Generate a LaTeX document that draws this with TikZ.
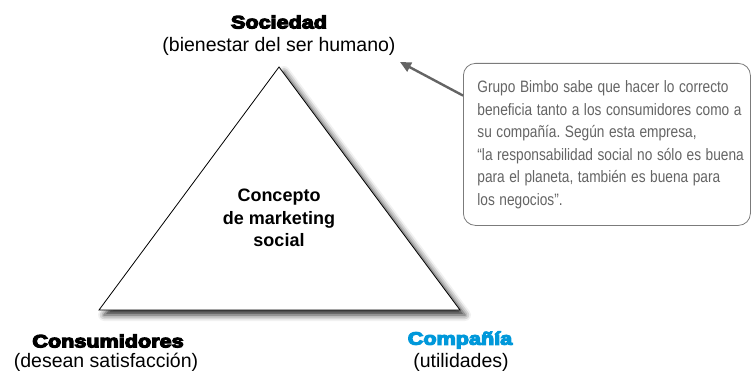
\documentclass[tikz,border=0pt]{standalone}
\usepackage{fontspec}
\setmainfont{Liberation Sans}
\usepackage{xcolor}
\usepackage{tikz}
\usetikzlibrary{arrows.meta,shadows.blur,calc}
\definecolor{bimboblue}{RGB}{0,152,218}
\definecolor{notegray}{RGB}{100,100,100}
\newcommand{\heavytext}[1]{\scalebox{1.2}[1]{\special{pdf:literal direct 2 Tr 1.1 w}\bfseries #1\special{pdf:literal direct 0 Tr}}}
\tikzset{
  heading/.style={font=\fontsize{18}{22}\selectfont, inner sep=0pt},
  subhead/.style={font=\fontsize{19.5}{22}\selectfont, inner sep=0pt},
}

\begin{document}
\begin{tikzpicture}[x=1pt,y=-1pt]
			\useasboundingbox (0,0) rectangle (751,371);
			% Vẽ tam giác
			\coordinate (top) at (279,67);
			\coordinate (left) at (99,310);
			\coordinate (right) at (460,310);
			\draw [line width=0.8pt, fill=white, blur shadow={shadow xshift=5pt, shadow yshift=-5pt, shadow blur radius=6pt, shadow opacity=85}] (top) -- (right) -- (left) -- cycle;
			\node (concept) [align=center, inner sep=0pt, font=\bfseries\fontsize{18}{22.5}\selectfont] at (279,218) {Concepto\\de marketing\\social};
			% Các nhãn
			\node (soc) [heading] at (279,22) {\heavytext{Sociedad}};
			\node (socsub) [subhead] at (279,46) {(bienestar del ser humano)};
			\node (cons) [heading] at (108,341) {\heavytext{Consumidores}};
			\node (conssub) [subhead] at (106,362) {(desean satisfacción)};
			\node (comp) [heading, text=bimboblue] at (460,340) {\heavytext{Compañía}};
			\node (compsub) [subhead] at (461,362) {(utilidades)};
			% Hộp ghi chú
			\node (note) [anchor=north west, draw=notegray!85, line width=0.8pt, rounded corners=12pt,
			  minimum width=287pt, minimum height=162pt, inner xsep=14pt, text width=259pt, align=left,
			  text=notegray, font=\frenchspacing\fontsize{16.5}{22.6}\selectfont] at (463,63)
			  {\scalebox{0.83}[1]{\begin{tabular}{@{}l@{}}
			   Grupo Bimbo sabe que hacer lo correcto\\
			   beneficia tanto a los consumidores como a\\
			   su compañía. Según esta empresa,\\
			   “la responsabilidad social no sólo es buena\\
			   para el planeta, también es buena para\\
			   los negocios”.
			   \end{tabular}}};
			\coordinate (tip) at (400,62);
			\draw [notegray, line width=2.4pt, -{Triangle[length=11pt,width=10pt]}] ($(note.north west)!0.2!(note.south west)$) -- (tip);
		\end{tikzpicture}
\end{document}
